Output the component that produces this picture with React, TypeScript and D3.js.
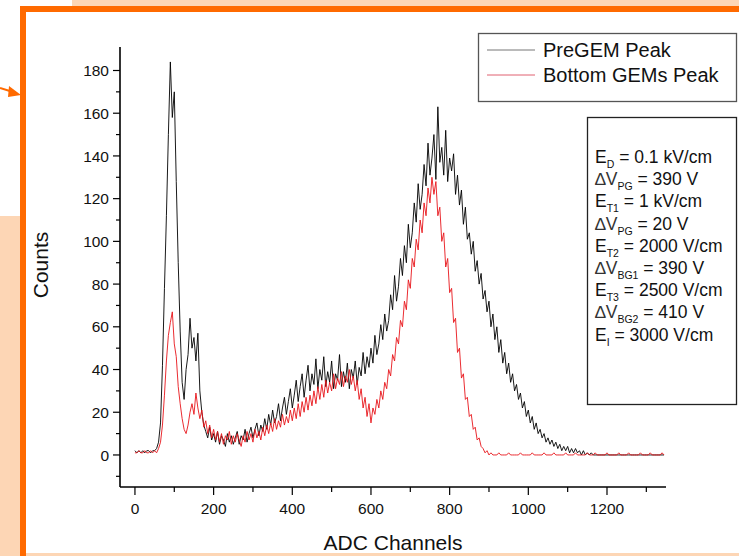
import React from "react";
import * as d3 from "d3";

// ---------- data (ADC channel histogram, sampled every 5 channels from 0) ----------
const CHANNEL_STEP = 5;

const preGEMCounts: number[] = [
  2, 1, 2, 1, 2, 1, 2, 2, 1, 2, 2, 3, 6, 15, 42, 78, 112, 150, 184, 158,
  170, 128, 90, 58, 34, 26, 40, 47, 64, 50, 55, 44, 57, 30, 20, 14, 11, 8, 13, 7,
  10, 6, 11, 5, 9, 7, 4, 10, 6, 9, 5, 8, 11, 5, 9, 7, 12, 6, 10, 13,
  8, 12, 15, 9, 14, 11, 17, 12, 19, 14, 21, 15, 18, 24, 16, 22, 27, 19, 25, 31,
  22, 28, 35, 25, 32, 38, 27, 35, 42, 30, 38, 33, 45, 31, 40, 35, 46, 32, 39, 34,
  44, 31, 38, 35, 47, 32, 39, 34, 43, 31, 40, 36, 44, 33, 41, 37, 48, 38, 46, 41,
  50, 43, 56, 47, 52, 61, 54, 66, 58, 63, 75, 68, 84, 72, 79, 92, 84, 98, 90, 108,
  97, 104, 118, 109, 127, 115, 122, 136, 126, 146, 131, 139, 150, 129, 163, 137, 144, 131, 152, 128,
  139, 133, 141, 122, 131, 117, 124, 108, 116, 101, 104, 94, 100, 86, 91, 80, 85, 73, 77, 67,
  72, 60, 66, 54, 60, 48, 54, 43, 48, 38, 43, 34, 38, 30, 33, 26, 29, 22, 25, 18,
  21, 15, 18, 12, 15, 10, 12, 8, 10, 6, 8, 5, 7, 4, 6, 3, 5, 2, 4, 2,
  4, 1, 3, 1, 3, 1, 2, 0, 2, 0, 1, 0, 1, 0, 0, 0, 0, 0, 0, 0,
  0, 0, 0, 0, 0, 0, 0, 0, 0, 0, 0, 0, 0, 0, 0, 0, 0, 0, 0, 0,
  0, 0, 0, 0, 0, 0, 0, 0, 0, 0,
];

const bottomGEMsCounts: number[] = [
  1, 1, 2, 1, 1, 2, 1, 1, 2, 1, 2, 1, 3, 6, 14, 28, 44, 56, 62, 67,
  52, 46, 32, 24, 17, 12, 10, 14, 20, 24, 19, 29, 22, 17, 21, 13, 16, 10, 14, 8,
  12, 7, 11, 6, 10, 5, 9, 7, 11, 5, 9, 6, 10, 7, 4, 9, 6, 11, 7, 10,
  6, 12, 8, 11, 7, 13, 9, 14, 10, 15, 11, 17, 12, 16, 13, 19, 14, 18, 15, 21,
  16, 22, 17, 24, 18, 25, 20, 27, 21, 28, 23, 30, 24, 32, 26, 33, 27, 35, 29, 34,
  30, 38, 31, 36, 33, 39, 32, 37, 34, 40, 33, 37, 30, 35, 26, 31, 22, 27, 18, 24,
  15, 22, 19, 26, 22, 30, 26, 34, 31, 40, 37, 47, 44, 55, 52, 63, 60, 72, 68, 82,
  78, 92, 88, 101, 96, 110, 104, 118, 112, 125, 118, 130, 122, 128, 112, 116, 100, 104, 88, 92,
  76, 78, 62, 64, 48, 50, 36, 38, 26, 27, 18, 19, 12, 13, 7, 8, 4, 3, 1, 2,
  0, 1, 0, 0, 0, 1, 0, 0, 0, 0, 1, 0, 0, 0, 0, 0, 1, 0, 0, 0,
  0, 0, 1, 0, 0, 0, 0, 0, 1, 0, 0, 0, 0, 1, 0, 0, 0, 0, 0, 1,
  0, 0, 0, 0, 1, 0, 0, 0, 0, 0, 1, 0, 0, 0, 1, 0, 0, 0, 0, 0,
  1, 0, 0, 0, 0, 0, 1, 0, 0, 0, 0, 1, 0, 0, 0, 0, 0, 1, 0, 0,
  0, 0, 1, 0, 0, 0, 0, 0, 1, 0,
];

const xTickLabels = [0, 200, 400, 600, 800, 1000, 1200];
const xMinorTicks = [100, 300, 500, 700, 900, 1100, 1300];
const yTickLabels = [0, 20, 40, 60, 80, 100, 120, 140, 160, 180];
const yMinorTicks = [-10, 10, 30, 50, 70, 90, 110, 130, 150, 170];

const seriesNames = ["PreGEM Peak", "Bottom GEMs Peak"];
const seriesColors = ["#000000", "#e8141a"];

const paramLines = [
  { main: "E", sub: "D", rest: " = 0.1 kV/cm" },
  { main: "\u2206V", sub: "PG", rest: " = 390 V" },
  { main: "E", sub: "T1", rest: " = 1 kV/cm" },
  { main: "\u2206V", sub: "PG", rest: " = 20 V" },
  { main: "E", sub: "T2", rest: " = 2000 V/cm" },
  { main: "\u2206V", sub: "BG1", rest: " = 390 V" },
  { main: "E", sub: "T3", rest: " = 2500 V/cm" },
  { main: "\u2206V", sub: "BG2", rest: " = 410 V" },
  { main: "E", sub: "I", rest: " = 3000 V/cm" },
];

// ---------- layout ----------
const W = 739;
const H = 556;
const FONT = "'Liberation Sans', Arial, Helvetica, sans-serif";
const ORANGE = "#ff6a00";
const PEACH = "#fdd6b5";

export default function App() {
  const x = d3.scaleLinear().domain([-38, 1350]).range([120, 666]);
  const y = d3.scaleLinear().domain([-15, 191]).range([487, 47]);

  const toPoints = (vals: number[]) =>
    vals.map((v, i) => [i * CHANNEL_STEP, v] as [number, number]);

  const line = d3
    .line<[number, number]>()
    .x((d) => x(d[0]))
    .y((d) => y(d[1]));

  const series = [preGEMCounts, bottomGEMsCounts];
  const x0 = x.range()[0];
  const yb = y.range()[0];

  return (
    <svg
      width={W}
      height={H}
      style={{ position: "absolute", left: 0, top: 0, background: "#fff" }}
      fontFamily={FONT}
    >
      {/* slide background pieces */}
      <rect x={0} y={0} width={W} height={H} fill="#ffffff" />
      <rect x={72} y={0} width={W - 72} height={7} fill={PEACH} />
      <rect x={0} y={216} width={20} height={H - 216} fill={PEACH} />
      <rect x={25} y={553} width={W - 25} height={3} fill={PEACH} />
      {/* orange frame */}
      <rect x={20} y={6} width={6} height={H - 6} fill={ORANGE} />
      <rect x={20} y={6} width={W - 20} height={6} fill={ORANGE} />
      {/* arrow */}
      <line x1={0} y1={88} x2={13} y2={92} stroke={ORANGE} strokeWidth={2} />
      <path d="M 21 95 L 9 86 L 8 97 Z" fill={ORANGE} />

      {/* data lines */}
      {series.map((vals, i) => (
        <path
          key={seriesNames[i]}
          d={line(toPoints(vals)) || ""}
          fill="none"
          stroke={seriesColors[i]}
          strokeWidth={0.9}
          strokeLinejoin="round"
        />
      ))}

      {/* axes */}
      <line x1={x0} y1={y.range()[1]} x2={x0} y2={yb} stroke="#000" strokeWidth={1.6} />
      <line x1={x0} y1={yb} x2={x.range()[1]} y2={yb} stroke="#000" strokeWidth={1.6} />

      {yTickLabels.map((t) => (
        <g key={"yt" + t}>
          <line x1={x0 - 7} x2={x0} y1={y(t)} y2={y(t)} stroke="#000" strokeWidth={1.2} />
          <text x={x0 - 11} y={y(t)} dy="0.36em" textAnchor="end" fontSize={15.5} fill="#111">
            {t}
          </text>
        </g>
      ))}
      {yMinorTicks.map((t) => (
        <line key={"ym" + t} x1={x0 - 4} x2={x0} y1={y(t)} y2={y(t)} stroke="#000" strokeWidth={1.2} />
      ))}
      {xTickLabels.map((t) => (
        <g key={"xt" + t}>
          <line x1={x(t)} x2={x(t)} y1={yb} y2={yb + 8} stroke="#000" strokeWidth={1.2} />
          <text x={x(t)} y={yb + 27} textAnchor="middle" fontSize={15.5} fill="#111">
            {t}
          </text>
        </g>
      ))}
      {xMinorTicks.map((t) => (
        <line key={"xm" + t} x1={x(t)} x2={x(t)} y1={yb} y2={yb + 5} stroke="#000" strokeWidth={1.2} />
      ))}

      {/* axis titles */}
      <text x={393} y={550} textAnchor="middle" fontSize={21} fill="#111">
        ADC Channels
      </text>
      <text transform="translate(48,265) rotate(-90)" textAnchor="middle" fontSize={21} fill="#111">
        Counts
      </text>

      {/* legend */}
      <rect x={478.5} y={33.5} width={258} height={68} fill="#fff" stroke="#555" strokeWidth={1.3} />
      {seriesNames.map((n, i) => (
        <g key={"lg" + i}>
          <line x1={487} x2={535} y1={50 + i * 25} y2={50 + i * 25} stroke={i === 0 ? "#777" : "#e06070"} strokeWidth={1} />
          <text x={543} y={50 + i * 25} dy="0.36em" fontSize={20} fill="#111">
            {n}
          </text>
        </g>
      ))}

      {/* parameter box */}
      <rect x={587.5} y={117.5} width={149} height={287} fill="#fff" stroke="#222" strokeWidth={1.3} />
      {paramLines.map((p, i) => (
        <text key={"p" + i} x={595} y={163 + i * 22.2} fontSize={17.5} fill="#111">
          <tspan fill={p.main.length > 1 ? "#333" : "#111"}>{p.main}</tspan>
          <tspan fontSize={10.5} dy={5}>{p.sub}</tspan>
          <tspan dy={-5}>{p.rest}</tspan>
        </text>
      ))}
    </svg>
  );
}
